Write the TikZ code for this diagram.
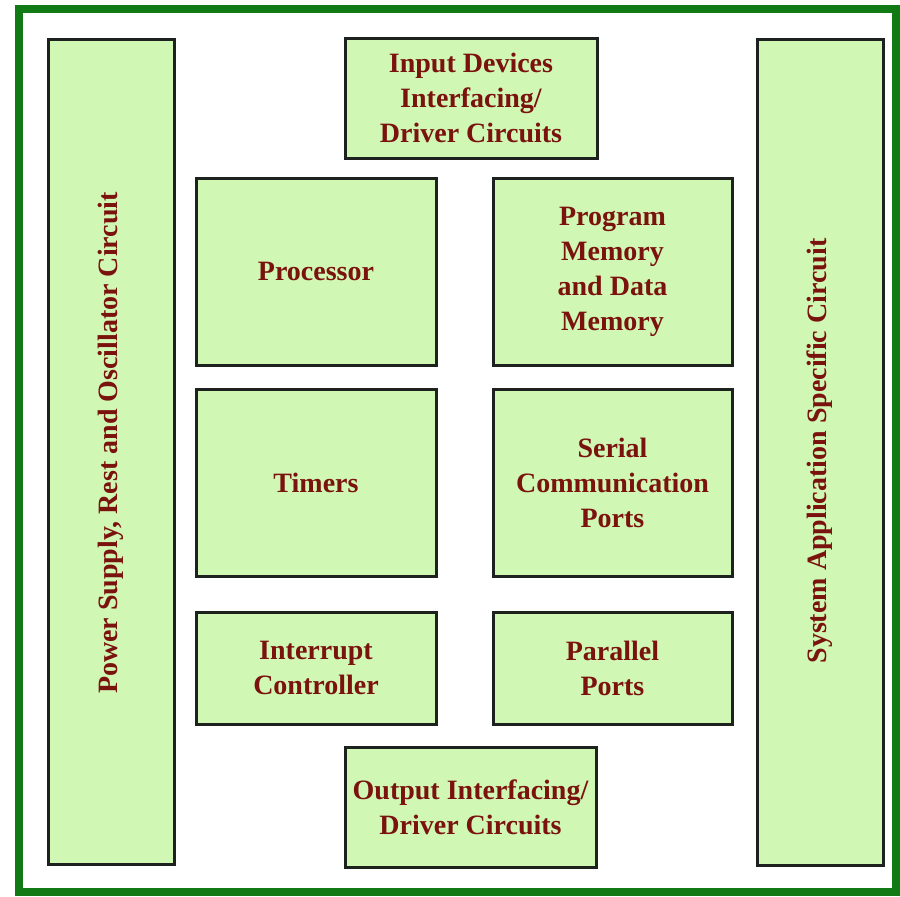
\documentclass[tikz,border=0pt]{standalone}
\usepackage{fontspec}
\setmainfont{Liberation Serif}
\definecolor{boxfill}{RGB}{208,247,180}
\definecolor{txtred}{RGB}{122,18,14}
\definecolor{framegreen}{RGB}{18,122,20}
\definecolor{boxline}{RGB}{30,34,30}
\tikzset{
  blk/.style={draw=boxline, line width=1.5pt, fill=boxfill, rectangle, inner sep=0pt,
    align=center, text=txtred, font=\fontsize{14}{17.5}\selectfont\bfseries},
}
\begin{document}
\begin{tikzpicture}[x=0.5pt,y=-0.5pt]
\useasboundingbox (0,0) rectangle (900,896);
\draw[framegreen, line width=4pt] (19,9) rectangle (896,892);
\node[blk, rotate=90, minimum width=412.5pt, minimum height=63pt] (power) at (111,451.5) {};
\node[rotate=90, text=txtred, font=\fontsize{14}{17.5}\selectfont\bfseries] (powert) at (111,443) {Power Supply, Rest and Oscillator Circuit};
\node[blk, rotate=90, minimum width=413pt, minimum height=63pt] (sys) at (820,452) {};
\node[rotate=90, text=txtred, font=\fontsize{14}{17.5}\selectfont\bfseries] (syst) at (820,451) {System Application Specific Circuit};
\node[blk, minimum width=126pt, minimum height=60pt] (input) at (471,98) {Input Devices\\Interfacing/\\Driver Circuits};
\node[blk, minimum width=120pt, minimum height=93.5pt] (proc) at (316,271.5) {Processor};
\node[blk, minimum width=119.5pt, minimum height=93.5pt] (mem) at (612.5,271.5) {Program\\Memory\\and Data\\Memory};
\node[blk, minimum width=120pt, minimum height=93.5pt] (tim) at (316,482.5) {Timers};
\node[blk, minimum width=119.5pt, minimum height=93.5pt] (ser) at (612.5,482.5) {Serial\\Communication\\Ports};
\node[blk, minimum width=120pt, minimum height=56pt] (intr) at (316,668) {Interrupt\\Controller};
\node[blk, minimum width=119.5pt, minimum height=56pt] (par) at (612.5,668) {Parallel\\Ports};
\node[blk, minimum width=125.5pt, minimum height=60pt] (out) at (470.5,807) {Output Interfacing/\\Driver Circuits};
\end{tikzpicture}
\end{document}
